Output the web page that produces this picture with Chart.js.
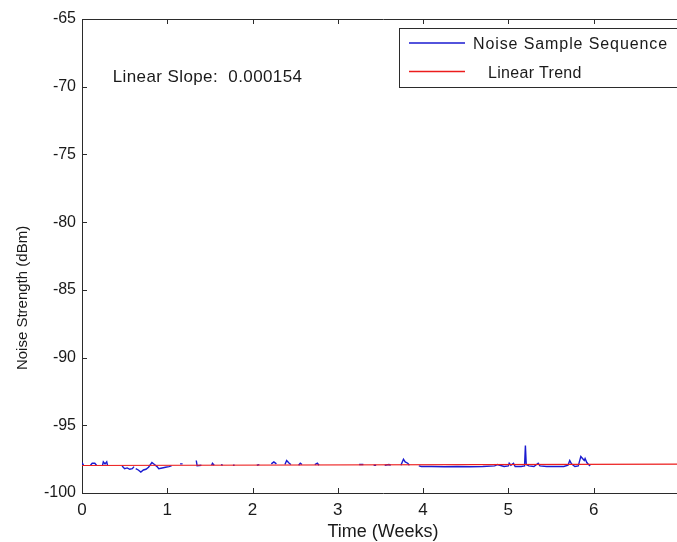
<!DOCTYPE html>
<html><head><meta charset="utf-8">
<script src="https://cdn.jsdelivr.net/npm/chart.js@4/dist/chart.umd.min.js"></script>
<style>
html,body{margin:0;padding:0;background:#fff;overflow:hidden}
#wrap{width:677px;height:542px;overflow:hidden;position:relative;background:#fff}
canvas{display:block}
</style>
</head><body>
<div id="wrap"><canvas id="c" width="684" height="542" style="width:684px;height:542px"></canvas></div>
<script>
// ---- data ----
const weeks = [
  0.00,0.02, 0.06,
  0.10,0.12,0.15,0.17, 0.20,
  0.24,0.25,0.27,0.29,0.30, 0.38,
  0.47,0.50,0.53,0.56,0.59,0.61, 0.62,
  0.63,0.66,0.69,0.72,0.75,0.78,0.82,0.85,0.88,0.90,0.94,0.98,1.02,1.05, 1.10,
  1.15,1.18, 1.25,
  1.34,1.35,1.40, 1.46,
  1.52,1.53,1.55, 1.59,
  1.63,1.65, 1.71,
  1.77,1.79, 1.90,
  2.05,2.08, 2.15,
  2.22,2.25,2.28, 2.33,
  2.38,2.40,2.43,2.45, 2.50,
  2.54,2.56,2.58, 2.65,
  2.73,2.76,2.78, 3.00,
  3.25,3.30, 3.36,
  3.42,3.45, 3.50,
  3.55,3.60,3.62, 3.68,
  3.74,3.77,3.79,3.82,3.84, 3.90,
  3.95,3.98,4.10,4.25,4.40,4.55,4.70,4.84,4.87,4.90,4.95,5.00,5.01,5.03,5.06,5.08,5.15,5.19,5.20,5.21,5.24,5.30,5.35,5.37,5.45,5.55,5.65,5.70,5.72,5.74,5.78,5.82,5.85,5.87,5.89,5.90,5.92,5.94,5.96
];
const noise = [
  -97.75,-97.98, null,
  -97.95,-97.80,-97.80,-97.95, null,
  -97.98,-97.70,-97.85,-97.70,-97.98, null,
  -98.00,-98.20,-98.15,-98.25,-98.20,-98.05, null,
  -98.20,-98.30,-98.45,-98.30,-98.25,-98.10,-97.75,-97.90,-98.05,-98.20,-98.15,-98.10,-98.05,-98.00, null,
  -97.85,-97.85, null,
  -97.60,-97.98,-97.95, null,
  -97.95,-97.80,-97.95, null,
  -97.90,-97.95, null,
  -97.95,-97.95, null,
  -97.95,-97.90, null,
  -97.85,-97.70,-97.85, null,
  -97.90,-97.60,-97.80,-97.90, null,
  -97.95,-97.80,-97.90, null,
  -97.90,-97.80,-97.95, null,
  -97.90,-97.90, null,
  -97.95,-97.95, null,
  -97.95,-97.90,-97.95, null,
  -97.95,-97.50,-97.70,-97.80,-97.95, null,
  -98.00,-98.04,-98.04,-98.06,-98.04,-98.06,-98.04,-98.00,-97.90,-97.95,-98.04,-98.00,-97.80,-97.95,-97.80,-98.04,-98.04,-98.00,-96.50,-97.90,-98.00,-98.04,-97.80,-98.00,-98.04,-98.04,-98.04,-97.95,-97.60,-97.85,-98.04,-98.00,-97.30,-97.45,-97.60,-97.45,-97.75,-97.90,-98.00
];
const trendWeeks = [0, 7.06];
const trendValues = [-97.97, -97.87];
const xTickValues = [0, 1, 2, 3, 4, 5, 6];
const yTickValues = [-100, -95, -90, -85, -80, -75, -70, -65];
const seriesLabels = ['Noise Sample Sequence', 'Linear Trend'];
const slopeNote = 'Linear Slope:  0.000154';
const xTitle = 'Time (Weeks)';
const yTitle = 'Noise Strength (dBm)';

// ---- styles ----
const AXIS = '#2b2b2b';
const TEXT = '#1a1a1a';
const FONT = '"Liberation Sans", Arial, sans-serif';
const seriesColors = ['#1a1ad0', '#ec1c1c'];

const inwardTicks = {
  id: 'inwardTicks',
  afterDraw(chart) {
    const ctx = chart.ctx, a = chart.chartArea;
    const xs = chart.scales.x, ys = chart.scales.y;
    ctx.save();
    ctx.strokeStyle = AXIS; ctx.lineWidth = 1;
    ctx.beginPath();
    xTickValues.forEach(v => {
      const px = Math.round(xs.getPixelForValue(v)) + 0.5;
      ctx.moveTo(px, a.bottom); ctx.lineTo(px, a.bottom - 5);
      ctx.moveTo(px, a.top); ctx.lineTo(px, a.top + 5);
    });
    yTickValues.forEach(v => {
      const py = Math.round(ys.getPixelForValue(v)) + 0.5;
      ctx.moveTo(a.left, py); ctx.lineTo(a.left + 5, py);
    });
    ctx.stroke();
    ctx.restore();
  }
};

const annotations = {
  id: 'annotations',
  afterDraw(chart) {
    const ctx = chart.ctx;
    const xs = chart.scales.x, ys = chart.scales.y;
    ctx.save();
    // y axis title (placed where the reference shows it)
    ctx.fillStyle = TEXT;
    ctx.font = '15px ' + FONT;
    ctx.textAlign = 'center';
    ctx.textBaseline = 'middle';
    ctx.translate(23, ys.getPixelForValue(-85.6));
    ctx.rotate(-Math.PI / 2);
    ctx.fillText(yTitle, 0, 0);
    ctx.setTransform(1, 0, 0, 1, 0, 0);
    // slope note, anchored in data coordinates
    ctx.textAlign = 'left';
    ctx.textBaseline = 'alphabetic';
    ctx.font = '17px ' + FONT;
    ctx.letterSpacing = '0.4px';
    ctx.fillText(slopeNote, xs.getPixelForValue(0.36), ys.getPixelForValue(-69.63));
    // legend box
    const bx = 399.5, by = 28.5, bw = 300, bh = 59;
    ctx.fillStyle = '#fff';
    ctx.fillRect(bx, by, bw, bh);
    ctx.strokeStyle = AXIS; ctx.lineWidth = 1;
    ctx.strokeRect(bx, by, bw, bh);
    ctx.font = '16px ' + FONT;
    const rows = [{ y: 43, tx: 473, sp: '0.9px' }, { y: 71.5, tx: 488, sp: '0.3px' }];
    rows.forEach((r, i) => {
      ctx.beginPath();
      ctx.strokeStyle = seriesColors[i];
      ctx.lineWidth = 1.3;
      ctx.moveTo(409, r.y); ctx.lineTo(465, r.y);
      ctx.stroke();
      ctx.fillStyle = TEXT;
      ctx.letterSpacing = r.sp;
      ctx.fillText(seriesLabels[i], r.tx, Math.round(r.y) + 6);
    });
    ctx.restore();
  }
};

new Chart(document.getElementById('c'), {
  type: 'line',
  data: {
    datasets: [
      {
        label: seriesLabels[0],
        data: weeks.map((w, i) => ({ x: w, y: noise[i] })),
        borderColor: seriesColors[0], borderWidth: 1.4, pointRadius: 0, spanGaps: false, tension: 0, order: 1
      },
      {
        label: seriesLabels[1],
        data: trendWeeks.map((w, i) => ({ x: w, y: trendValues[i] })),
        borderColor: seriesColors[1], borderWidth: 1.2, pointRadius: 0, tension: 0, order: 0
      }
    ]
  },
  options: {
    responsive: false, animation: false, devicePixelRatio: 1,
    layout: { padding: { left: 0, top: 19, right: 0, bottom: 0 } },
    plugins: { legend: { display: false }, tooltip: { enabled: false } },
    scales: {
      x: {
        type: 'linear', position: 'bottom', min: 0, max: 7.06,
        afterBuildTicks: s => { s.ticks = xTickValues.map(v => ({ value: v })); },
        afterFit: s => { s.height = 49; },
        grid: { drawOnChartArea: false, drawTicks: false },
        border: { display: true, color: AXIS, width: 1 },
        ticks: { color: TEXT, font: { family: FONT, size: 17 }, padding: 7, maxRotation: 0, autoSkip: false },
        title: { display: true, text: xTitle, color: TEXT, font: { family: FONT, size: 18, lineHeight: 1 }, padding: { top: 0, bottom: 1 } }
      },
      xTop: {
        type: 'linear', position: 'top', min: 0, max: 7.06,
        afterFit: s => { s.height = 0; },
        grid: { drawOnChartArea: false, drawTicks: false },
        border: { display: true, color: AXIS, width: 1 },
        ticks: { display: false }
      },
      y: {
        type: 'linear', min: -100, max: -65,
        afterBuildTicks: s => { s.ticks = yTickValues.map(v => ({ value: v })); },
        afterFit: s => { s.width = 82; },
        grid: { drawOnChartArea: false, drawTicks: false },
        border: { display: true, color: AXIS, width: 1 },
        ticks: { color: TEXT, font: { family: FONT, size: 16 }, padding: 6 },
        title: { display: false }
      }
    }
  },
  plugins: [inwardTicks, annotations]
});
</script>
</body></html>
